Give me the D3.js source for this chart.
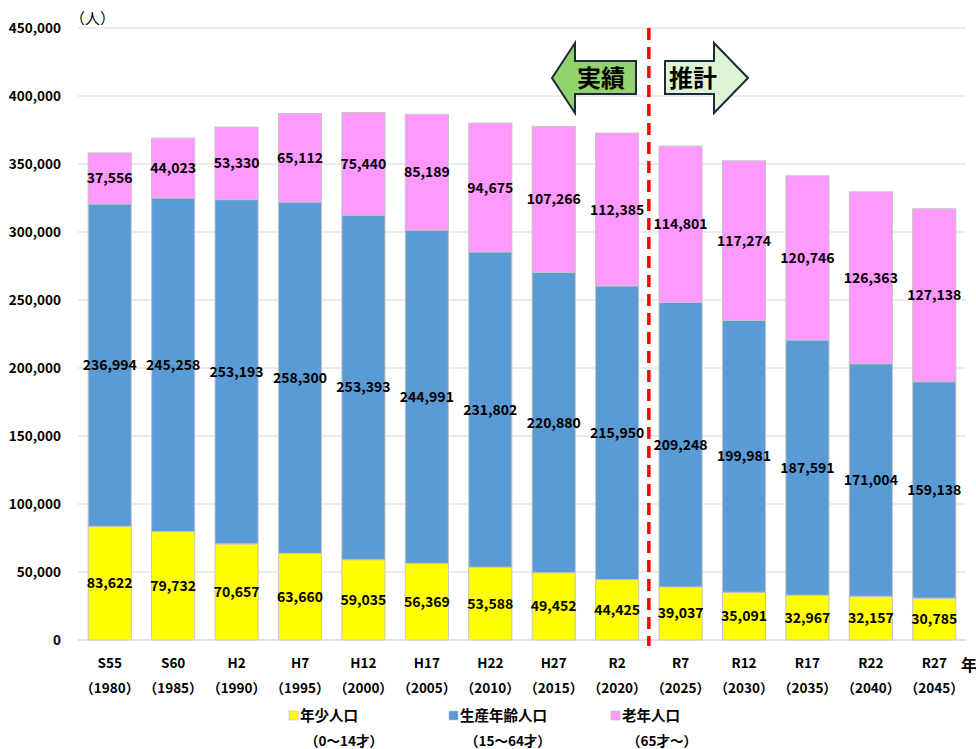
<!DOCTYPE html>
<html>
<head>
<meta charset="utf-8">
<script src="https://cdn.jsdelivr.net/npm/d3@7"></script>
<style>
  html, body { margin: 0; padding: 0; background: #fff; }
  svg text { font-family: "Noto Sans CJK JP", "Noto Sans", sans-serif; }
</style>
</head>
<body>
<svg id="chart" width="976" height="749"></svg>
<script>
// Population by age group (persons), actuals up to R2 and projections from R7
const eraLabels = ["S55", "S60", "H2", "H7", "H12", "H17", "H22", "H27", "R2", "R7", "R12", "R17", "R22", "R27"];
const yearLabels = ["1980", "1985", "1990", "1995", "2000", "2005", "2010", "2015", "2020", "2025", "2030", "2035", "2040", "2045"];
const youngPop = [83622, 79732, 70657, 63660, 59035, 56369, 53588, 49452, 44425, 39037, 35091, 32967, 32157, 30785];
const workingPop = [236994, 245258, 253193, 258300, 253393, 244991, 231802, 220880, 215950, 209248, 199981, 187591, 171004, 159138];
const elderlyPop = [37556, 44023, 53330, 65112, 75440, 85189, 94675, 107266, 112385, 114801, 117274, 120746, 126363, 127138];
const seriesNames = ["年少人口", "生産年齢人口", "老年人口"];
const seriesNotes = ["（0～14才）", "（15～64才）", "（65才～）"];
const yTicks = [0, 50000, 100000, 150000, 200000, 250000, 300000, 350000, 400000, 450000];

const colors = ["#FFFF00", "#5B9BD5", "#FF99FF"];

const svg = d3.select("#chart");

const x = d3.scaleBand().domain(eraLabels).range([78, 966]).paddingInner(0.32).paddingOuter(0.16);
const y = d3.scaleLinear().domain([0, 450000]).range([640, 28]);

// horizontal gridlines
svg.append("g").selectAll("line").data(yTicks).join("line")
  .attr("x1", 78).attr("x2", 966)
  .attr("y1", d => y(d)).attr("y2", d => y(d))
  .attr("stroke", "#d9d9d9").attr("stroke-width", 1);

// y axis labels
const yAxis = d3.axisLeft(y).tickValues(yTicks).tickSize(0).tickPadding(0)
  .tickFormat(d3.format(","));
svg.append("g").attr("transform", "translate(61,0)").call(yAxis)
  .call(g => g.select(".domain").remove())
  .selectAll("text")
  .attr("font-family", "'Noto Sans CJK JP', sans-serif")
  .attr("font-size", 13.5).attr("font-weight", "bold").attr("fill", "#000");

svg.append("text").attr("x", 70).attr("y", 24)
  .attr("font-size", 15).attr("fill", "#000").text("（人）");

// stacked bars
const rows = eraLabels.map((e, i) => ({ era: e, young: youngPop[i], working: workingPop[i], elderly: elderlyPop[i] }));
const keys = ["young", "working", "elderly"];
const stacked = d3.stack().keys(keys)(rows);

const layers = svg.append("g").selectAll("g").data(stacked).join("g")
  .attr("fill", (d, i) => colors[i]);

layers.selectAll("rect").data(d => d).join("rect")
  .attr("x", d => x(d.data.era))
  .attr("width", x.bandwidth())
  .attr("y", d => y(d[1]))
  .attr("height", d => y(d[0]) - y(d[1]))
  .attr("stroke", "#c4c4c4").attr("stroke-width", 1);

// value labels centred in each segment
layers.selectAll("text").data(d => d).join("text")
  .attr("x", d => x(d.data.era) + x.bandwidth() / 2)
  .attr("y", d => y((d[0] + d[1]) / 2))
  .attr("dy", "0.36em")
  .attr("text-anchor", "middle")
  .attr("font-size", 14).attr("font-weight", "bold").attr("fill", "#000")
  .text(d => d3.format(",")(d[1] - d[0]));

// x axis line
svg.append("line").attr("x1", 78).attr("x2", 966).attr("y1", y(0)).attr("y2", y(0))
  .attr("stroke", "#d9d9d9");

// category labels
const xl = svg.append("g").selectAll("g").data(eraLabels).join("g")
  .attr("transform", d => `translate(${x(d) + x.bandwidth() / 2},0)`);
xl.append("text").attr("y", 668).attr("text-anchor", "middle")
  .attr("font-size", 13.5).attr("font-weight", "bold").text(d => d);
xl.append("text").attr("y", 693).attr("text-anchor", "middle")
  .attr("font-size", 13.5).attr("font-weight", "bold")
  .text((d, i) => "（" + yearLabels[i] + "）");

svg.append("text").attr("x", 961).attr("y", 671)
  .attr("font-size", 16).attr("font-weight", "bold").text("年");

// boundary between actuals and projections
const splitX = (x("R2") + x.bandwidth() + x("R7")) / 2;
svg.append("line").attr("x1", splitX).attr("x2", splitX)
  .attr("y1", 28).attr("y2", 646)
  .attr("stroke", "#ff0000").attr("stroke-width", 3.5)
  .attr("stroke-dasharray", "12,7");

// arrow callouts
const leftArrow = [[552, 78], [575, 43], [575, 61], [636, 61], [636, 94], [575, 94], [575, 113]];
const rightArrow = [[748, 78], [714, 43], [714, 61], [665, 61], [665, 94], [714, 94], [714, 113]];
svg.append("polygon").attr("points", leftArrow.map(p => p.join(",")).join(" "))
  .attr("fill", "#92D36E").attr("stroke", "#1b2a3a").attr("stroke-width", 2);
svg.append("polygon").attr("points", rightArrow.map(p => p.join(",")).join(" "))
  .attr("fill", "#DDF5D6").attr("stroke", "#1b2a3a").attr("stroke-width", 2);
svg.append("text").attr("x", 601).attr("y", 87).attr("text-anchor", "middle")
  .attr("font-size", 24).attr("font-weight", "bold").text("実績");
svg.append("text").attr("x", 693).attr("y", 87).attr("text-anchor", "middle")
  .attr("font-size", 24).attr("font-weight", "bold").text("推計");

// legend
const legendX = [289, 449, 611];
const lg = svg.append("g").selectAll("g").data(seriesNames).join("g")
  .attr("transform", (d, i) => `translate(${legendX[i]},0)`);
lg.append("rect").attr("x", 0).attr("y", 711).attr("width", 9).attr("height", 9)
  .attr("fill", (d, i) => colors[i]).attr("stroke", "#bdbdbd").attr("stroke-width", 0.6);
lg.append("text").attr("x", 11).attr("y", 721)
  .attr("font-size", 14.5).attr("font-weight", "bold").text(d => d);
lg.append("text").attr("x", 16).attr("y", 746)
  .attr("font-size", 13.5).attr("font-weight", "bold").text((d, i) => seriesNotes[i]);
</script>
</body>
</html>
